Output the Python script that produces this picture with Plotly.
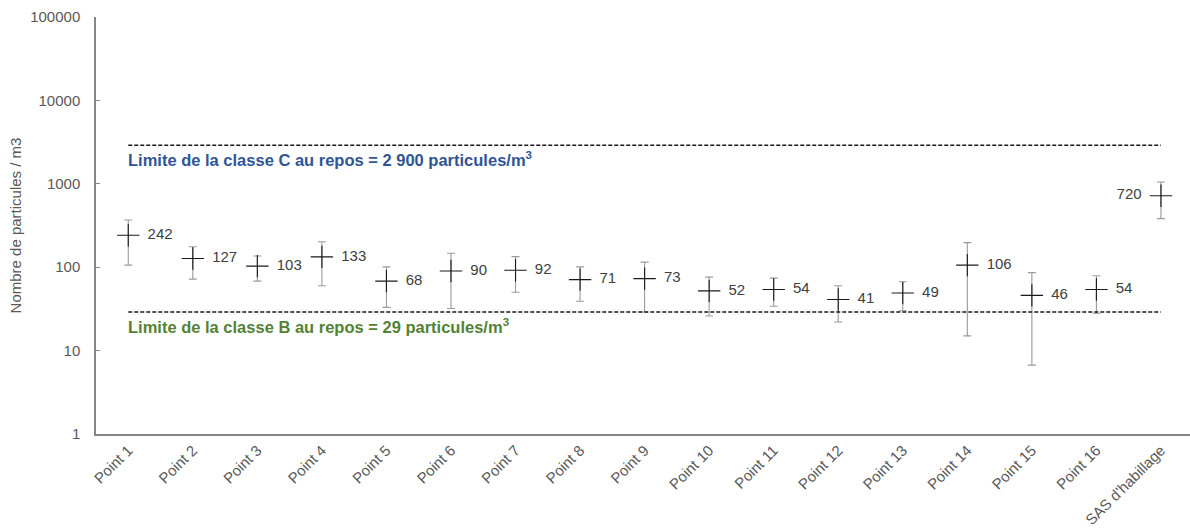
import math
import plotly.graph_objects as go

# Mesures de particules par point de prélèvement
points = ["Point 1", "Point 2", "Point 3", "Point 4", "Point 5", "Point 6", "Point 7",
          "Point 8", "Point 9", "Point 10", "Point 11", "Point 12", "Point 13",
          "Point 14", "Point 15", "Point 16", "SAS d'habillage"]
moyennes = [242, 127, 103, 133, 68, 90, 92, 71, 73, 52, 54, 41, 49, 106, 46, 54, 720]
maximums = [368, 176, 136, 202, 101, 147, 134, 101, 115, 76, 74, 60, 67, 197, 86, 79, 1050]
minimums = [106, 72, 68, 60, 33, 32, 50, 39, 29, 26, 34, 22, 30, 15, 6.7, 28, 382]

# Limites de classe au repos
limite_c = 2900
limite_b = 29

FONT = "Liberation Sans, Arial"

err_plus = [hi - m for hi, m in zip(maximums, moyennes)]
err_minus = [m - lo for lo, m in zip(minimums, moyennes)]
positions = ["middle right"] * (len(points) - 1) + ["middle left"]

fig = go.Figure()
fig.add_trace(go.Scatter(
    x=points, y=moyennes, mode="markers+text",
    marker=dict(symbol="cross-thin", size=16, line=dict(width=1.1, color="#1a1a1a")),
    error_y=dict(type="data", symmetric=False, array=err_plus, arrayminus=err_minus,
                 color="#9a9a9a", thickness=1.1, width=4),
    text=["  " + str(v) if p == "middle right" else str(v) + "  "
          for v, p in zip(moyennes, positions)],
    textposition=positions,
    textfont=dict(family=FONT, size=15, color="#404040"),
    showlegend=False, cliponaxis=False,
))

for val in (limite_c, limite_b):
    fig.add_shape(type="line", xref="x", yref="y", x0=points[0], x1=points[-1],
                  y0=val, y1=val, line=dict(color="#1a1a1a", width=1.5, dash="4px,2px"))

# Libellés des limites (coordonnées y en log10 sur un axe logarithmique)
fig.add_annotation(x=points[0], y=math.log10(limite_c), xref="x", yref="y",
                   xanchor="left", yanchor="top", xshift=-2, yshift=-2, showarrow=False,
                   text="<b>Limite de la classe C au repos = 2 900 particules/m<sup>3</sup></b>",
                   font=dict(family=FONT, size=16.5, color="#2F5597"))
fig.add_annotation(x=points[0], y=math.log10(limite_b), xref="x", yref="y",
                   xanchor="left", yanchor="top", xshift=-2, yshift=-2, showarrow=False,
                   text="<b>Limite de la classe B au repos = 29 particules/m<sup>3</sup></b>",
                   font=dict(family=FONT, size=16.5, color="#548235"))

ticks = [1, 10, 100, 1000, 10000, 100000]
fig.update_yaxes(type="log", range=[0, 5], tickvals=ticks, ticktext=[str(t) for t in ticks],
                 showgrid=False, zeroline=False, showline=True, linecolor="#868686",
                 linewidth=1.5, ticks="inside", ticklen=4, tickcolor="#868686",
                 ticklabelstandoff=11,
                 tickfont=dict(family=FONT, size=15, color="#595959"),
                 title=dict(text="Nombre de particules / m3", standoff=5,
                            font=dict(family=FONT, size=15, color="#595959")))
fig.update_xaxes(type="category", range=[-0.5, 16.45], showgrid=False, showline=True,
                 linecolor="#868686", linewidth=1.5, ticks="", tickangle=-45,
                 tickfont=dict(family=FONT, size=15, color="#595959"))

fig.update_layout(width=1190, height=529, plot_bgcolor="white", paper_bgcolor="white",
                  margin=dict(l=96, r=0, t=17, b=95))

fig.write_html("out.html")
